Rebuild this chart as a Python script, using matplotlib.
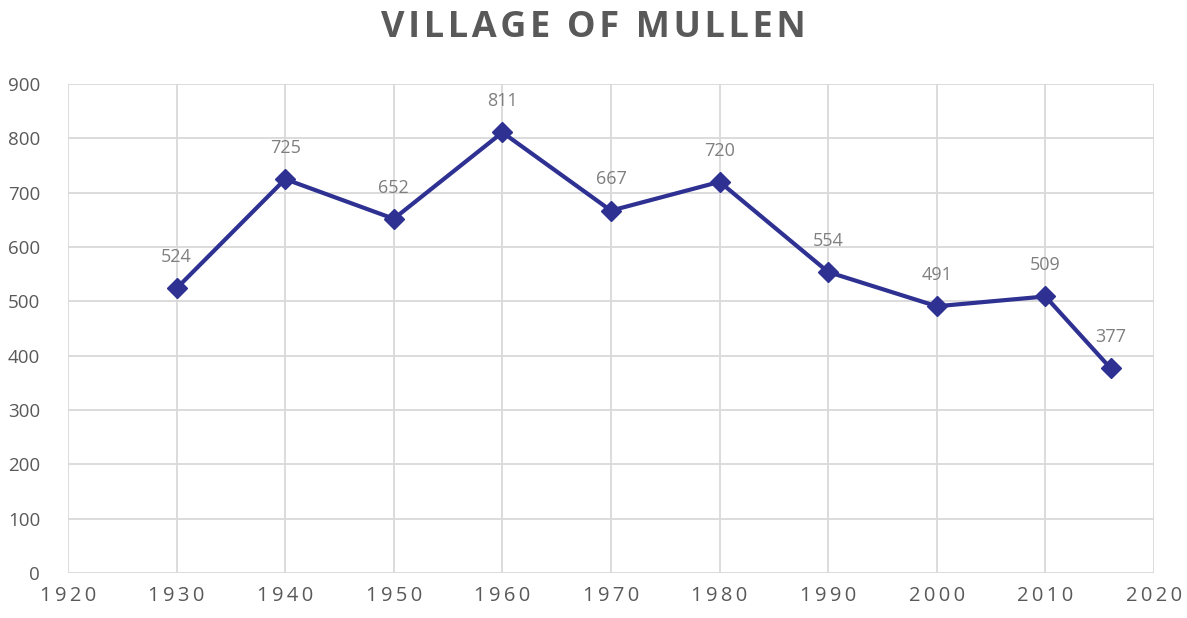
import matplotlib
matplotlib.use("Agg")
import matplotlib.pyplot as plt

years = [1930, 1940, 1950, 1960, 1970, 1980, 1990, 2000, 2010, 2016]
population = [524, 725, 652, 811, 667, 720, 554, 491, 509, 377]
x_ticks = [1920, 1930, 1940, 1950, 1960, 1970, 1980, 1990, 2000, 2010, 2020]
y_ticks = [0, 100, 200, 300, 400, 500, 600, 700, 800, 900]
title = "VILLAGE OF MULLEN"

plt.rcParams['font.family'] = ['Open Sans', 'DejaVu Sans']

fig = plt.figure(figsize=(11.87, 6.18), dpi=100)
ax = fig.add_axes([0.0573, 0.0728, 0.9149, 0.7912])

line_color = "#2E3192"
grid_color = "#D9D9D9"
text_color = "#595959"

ax.plot(years, population, color=line_color, linewidth=3.0, marker="D",
        markersize=10, markerfacecolor=line_color, markeredgecolor=line_color,
        zorder=3, clip_on=False)

for x, y in zip(years, population):
    ax.annotate(str(y), (x, y), xytext=(0, 16), textcoords="offset points",
                ha="center", va="bottom", fontsize=13, color="#7F7F7F")

ax.set_xlim(1920, 2020)
ax.set_ylim(0, 900)
ax.set_xticks(x_ticks)
ax.set_yticks(y_ticks)
ax.set_xticklabels(["\u2006".join(str(t)) for t in x_ticks])
ax.set_yticklabels([str(t) for t in y_ticks])
ax.tick_params(axis="both", length=0, labelsize=13.5, labelcolor=text_color)
ax.tick_params(axis="x", pad=9, labelsize=14.5)
ax.tick_params(axis="y", pad=20)

ax.grid(True, color=grid_color, linewidth=1.3)
ax.set_axisbelow(True)
for side in ["left", "right", "top", "bottom"]:
    ax.spines[side].set_visible(False)

# Slightly tracked-out bold title
fig.text(0.5, 0.955, "\u200a".join(title), ha="center", va="center",
         fontsize=26, fontweight="bold", color=text_color)

fig.savefig("out.png", dpi=100)
